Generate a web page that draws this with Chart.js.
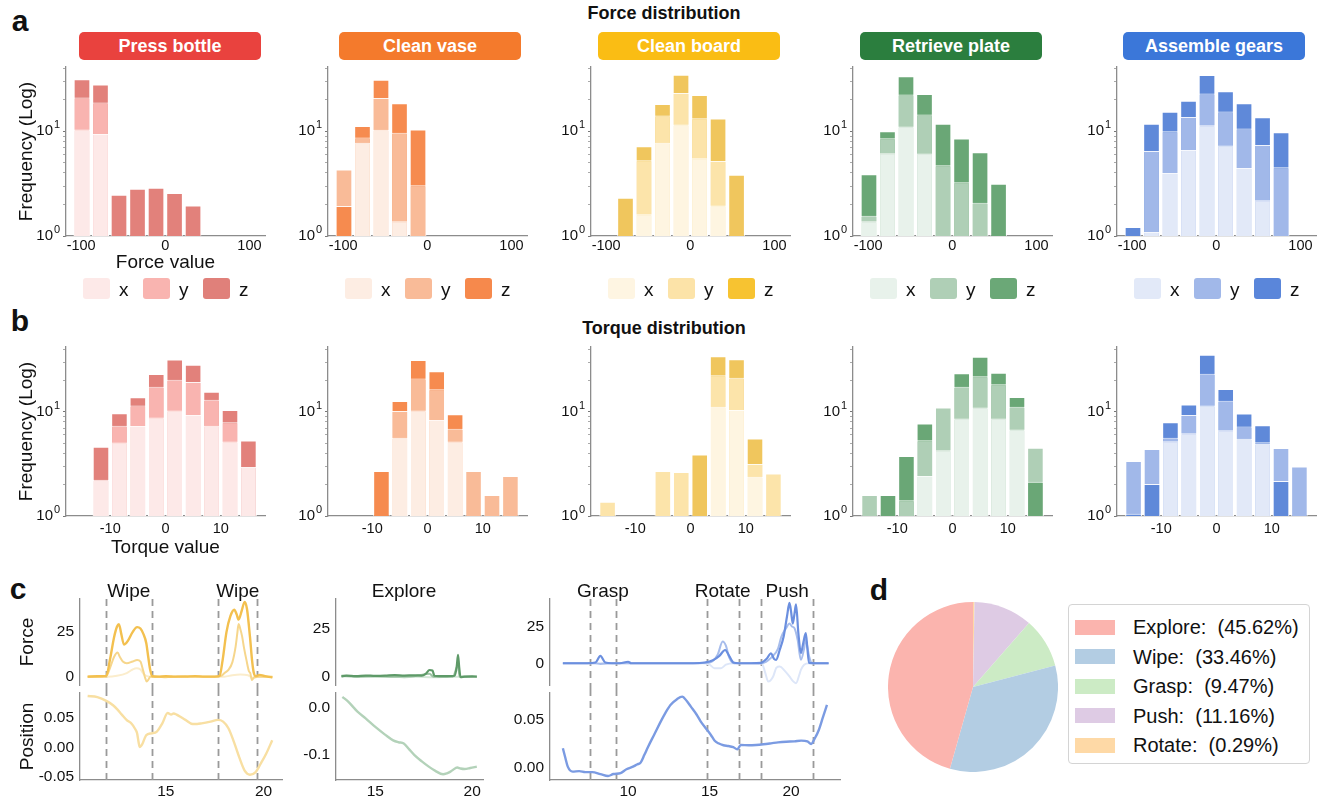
<!DOCTYPE html>
<html>
<head>
<meta charset="utf-8">
<title>Force and torque distribution</title>
<script src="https://cdn.jsdelivr.net/npm/chart.js@4.4.1/dist/chart.umd.min.js"></script>
<style>
  html, body { margin: 0; padding: 0; background: #fff; }
  body { position: relative; width: 1328px; height: 801px; overflow: hidden;
         font-family: 'Liberation Sans', Arial, Helvetica, sans-serif; color: #111; }
  canvas { position: absolute; }
  .t { position: absolute; white-space: pre; line-height: 1; }
  .badge { position: absolute; color: #fff; font-weight: bold; border-radius: 5px;
           display: flex; align-items: center; justify-content: center; }
  .key { position: absolute; border-radius: 3px; }
  .legbox { position: absolute; border: 1px solid #d4d4d4; border-radius: 4px; background: #fff; }
</style>
</head>
<body>
<script>
const FONT = "'Liberation Sans', Arial, Helvetica, sans-serif";
const AXIS = '#8c8c8c';
Chart.defaults.font.family = FONT;
Chart.defaults.color = '#111';

// ---------- a / b : histogram data ----------
const forceBins = [-99, -77, -55, -33, -11, 11, 33, 55, 77, 99];
const torqueBins = [-15, -11.67, -8.33, -5, -1.67, 1.67, 5, 8.33, 11.67, 15];
const forceTicks = [-100, 0, 100];
const forceTickLabels = ['-100', '0', '100'];
const torqueTicks = [-10, 0, 10];
const torqueTickLabels = ['-10', '0', '10'];
const logTicks = [1, 2, 3, 4, 5, 6, 7, 8, 9, 10, 20, 30, 40];
const logLabelled = [1, 10];

const taskNames = ['Press bottle', 'Clean vase', 'Clean board', 'Retrieve plate', 'Assemble gears'];
const badgeColors = ['#E9423E', '#F47A2C', '#FABD14', '#2B7E3E', '#3B77D9'];
const axisNames = ['x', 'y', 'z'];

// bar colours per task: x, y, z
const barColors = [
  ['#FDE9E8', '#F9B4B0', '#E2817B'],
  ['#FDEDE3', '#F9BB98', '#F68B4F'],
  ['#FEF5E1', '#FCE4AA', '#F0C65D'],
  ['#E8F2EB', '#AFCFB6', '#6AA776'],
  ['#E2E9F8', '#A1B8E9', '#5F89D9']
];
const keyColors = [
  ['#FDE9E8', '#F9B4B0', '#E0807A'],
  ['#FDEDE3', '#F9BB98', '#F6894C'],
  ['#FEF5E2', '#FCE3A8', '#F7C331'],
  ['#E8F2EB', '#AFCFB6', '#6BA877'],
  ['#E2E9F8', '#A1B8E9', '#5A86DA']
];

// height reached by each axis in every bin (bars are drawn from the baseline)
const pressForceX = [10.4, 9.4, 0, 0, 0, 0, 0, 0, 0, 0];
const pressForceY = [21.0, 18.8, 0, 0, 0, 0, 0, 0, 0, 0];
const pressForceZ = [31.4, 27.9, 2.48, 2.83, 2.89, 2.57, 1.95, 0, 0, 0];
const vaseForceX = [0, 7.74, 10.3, 1.38, 0, 0, 0, 0, 0, 0];
const vaseForceY = [4.30, 8.70, 20.7, 9.69, 3.05, 0, 0, 0, 0, 0];
const vaseForceZ = [1.93, 11.2, 30.9, 18.5, 10.4, 0, 0, 0, 0, 0];
const boardForceX = [0, 0, 1.61, 7.74, 11.6, 5.52, 1.95, 0, 0, 0];
const boardForceY = [0, 0, 5.28, 14.1, 23.1, 13.3, 5.21, 0, 0, 0];
const boardForceZ = [0, 2.32, 7.19, 18.2, 34.5, 22.1, 13.2, 3.85, 0, 0];
const plateForceX = [1.38, 6.16, 11.1, 6.12, 0, 0, 0, 0, 0, 0];
const plateForceY = [1.56, 8.57, 22.4, 14.4, 4.73, 3.26, 2.08, 0, 0, 0];
const plateForceZ = [3.88, 10.0, 33.5, 22.7, 11.8, 8.51, 6.30, 3.16, 0, 0];
const gearsForceX = [0, 1.09, 4.0, 6.63, 11.4, 7.30, 4.46, 2.19, 0, 0];
const gearsForceY = [0, 6.49, 10.0, 13.7, 22.9, 15.4, 10.6, 7.40, 4.53, 0];
const gearsForceZ = [1.22, 11.8, 15.3, 19.5, 34.3, 24.1, 18.5, 13.6, 9.78, 0];

const pressTorqueX = [0, 2.23, 5.08, 7.3, 8.82, 10.3, 9.35, 7.34, 5.19, 2.95];
const pressTorqueY = [0, 0, 7.34, 11.5, 17.4, 20.4, 19.4, 13.1, 7.96, 0];
const pressTorqueZ = [0, 4.62, 9.7, 13.8, 23.1, 31.8, 28.4, 15.6, 10.4, 5.31];
const vaseTorqueX = [0, 0, 0, 5.63, 10.3, 8.38, 5.19, 0, 0, 0];
const vaseTorqueY = [0, 0, 0, 10.2, 20.9, 16.5, 6.87, 2.70, 1.59, 2.42];
const vaseTorqueZ = [0, 0, 2.70, 12.7, 31.5, 24.5, 9.5, 0, 0, 0];
const boardTorqueX = [0, 0, 0, 0, 0, 0, 11.2, 10.4, 2.38, 0];
const boardTorqueY = [1.37, 0, 0, 2.70, 2.64, 0, 22.5, 21.3, 3.15, 2.56];
const boardTorqueZ = [0, 0, 0, 0, 0, 3.90, 34.2, 32.0, 5.55, 0];
const plateTorqueX = [0, 0, 0, 2.42, 4.29, 8.63, 11.0, 8.63, 6.77, 0];
const plateTorqueY = [1.59, 0, 1.42, 5.35, 11.0, 17.4, 22.0, 18.4, 11.2, 4.52];
const plateTorqueZ = [0, 1.59, 3.76, 7.73, 0, 23.5, 33.9, 23.8, 13.9, 2.13];
const gearsTorqueX = [0, 0, 5.23, 6.25, 11.5, 6.67, 5.51, 4.94, 0, 0];
const gearsTorqueY = [3.37, 4.39, 5.63, 9.35, 23.2, 12.8, 7.23, 5.1, 4.49, 2.99];
const gearsTorqueZ = [1.05, 2.03, 7.96, 11.8, 35.4, 16.6, 9.64, 7.45, 2.17, 0];

// ---------- c : time series ([time s, value]) ----------
const wipeForceStrong = [[11.0,0],[11.5,0.2],[11.95,0.3],[12.15,10],[12.35,22],[12.5,28],[12.6,29.5],[12.72,24],[12.86,18],[13.05,20],[13.3,25],[13.53,27.8],[13.7,27],[13.85,24],[14.0,18.8],[14.1,11],[14.2,3.8],[14.3,0.3],[14.6,0],[15.0,0.2],[15.5,0],[16.0,0],[16.5,0.3],[17.0,0],[17.5,0],[17.75,0.5],[17.9,9],[18.1,25],[18.3,34],[18.5,37.6],[18.62,35],[18.72,32],[18.88,37],[19.03,42],[19.15,38],[19.3,22.6],[19.42,8],[19.5,2],[19.6,0.2],[19.8,1],[20.0,0.5],[20.2,0],[20.45,-0.4]];
const wipeForceMid = [[11.0,0],[11.5,0],[11.95,0.2],[12.15,5],[12.35,11],[12.53,13.5],[12.65,11],[12.8,8.5],[13.0,7.5],[13.3,8.5],[13.53,9.4],[13.7,8.5],[13.85,3],[13.95,-1],[14.02,-2.8],[14.12,-1.5],[14.2,0],[14.6,0],[15.0,-0.3],[15.5,0],[16.0,0.2],[16.5,0],[17.0,0],[17.5,0],[17.8,0.3],[18.0,2],[18.2,3.8],[18.4,8],[18.57,17],[18.65,24],[18.72,29.5],[18.8,27],[18.9,22.6],[19.0,16],[19.12,9.4],[19.25,3],[19.32,1.9],[19.4,-1.9],[19.5,-0.5],[19.6,0],[20.0,0],[20.45,0]];
const wipeForceWeak = [[11.0,0],[12.0,0],[12.5,0.5],[13.0,2],[13.3,4],[13.5,4.7],[13.7,4],[13.9,1],[14.2,0],[15.0,0],[16.0,0],[17.0,0],[18.0,0],[18.4,0.8],[18.8,1.2],[19.2,0.8],[19.5,-0.8],[19.7,0],[20.45,0]];
const wipePosition = [[11.0,0.0878],[11.5,0.086],[11.98,0.079],[12.3,0.072],[12.53,0.0645],[12.75,0.056],[12.99,0.047],[13.26,0.040],[13.4,0.033],[13.53,0.024],[13.6,0.010],[13.66,0.0006],[13.75,0.003],[13.81,0.0064],[13.9,0.014],[14.0,0.021],[14.27,0.024],[14.54,0.027],[14.82,0.041],[15.09,0.0587],[15.27,0.056],[15.4,0.058],[15.55,0.056],[15.8,0.051],[16.0,0.047],[16.37,0.040],[16.6,0.040],[16.83,0.041],[17.29,0.044],[17.66,0.047],[17.93,0.044],[18.2,0.0326],[18.48,0.0093],[18.75,-0.0169],[19.03,-0.040],[19.3,-0.047],[19.58,-0.043],[19.85,-0.028],[20.13,-0.011],[20.44,0.012]];
const wipeMarks = [11.94, 14.27, 17.69, 19.67];
const wipePhases = ['Wipe', 'Wipe'];

const exploreForceStrong = [[13.25,0.2],[13.5,0.5],[14.0,0.3],[14.5,0.6],[15.0,0.4],[15.5,0.5],[16.0,0.8],[16.5,0.6],[17.0,0.7],[17.4,0.6],[17.6,1.5],[17.8,3.5],[17.95,3.2],[18.05,0.5],[18.3,0.3],[18.7,0.3],[19.1,0.5],[19.2,5],[19.27,11.4],[19.33,5],[19.4,-0.3],[19.6,0],[20.0,0.2],[20.24,0]];
const exploreForceMid = [[13.25,0.3],[14.0,0],[15.0,0.2],[16.0,0],[17.0,0.2],[17.8,1.5],[18.0,0],[19.0,0],[19.27,6],[19.35,0],[20.24,0]];
const exploreForceWeak = [[13.25,0.8],[13.5,0.5],[14.0,0.2],[15.0,0],[16.0,0],[16.5,-0.4],[17.0,0],[18.0,-0.3],[19.0,0],[20.24,0]];
const explorePosition = [[13.3,0.022],[13.6,0.012],[14.08,-0.009],[14.5,-0.023],[15.0,-0.041],[15.5,-0.057],[15.92,-0.069],[16.2,-0.073],[16.47,-0.0755],[16.75,-0.088],[17.02,-0.100],[17.4,-0.113],[17.76,-0.124],[18.1,-0.133],[18.5,-0.140],[18.7,-0.138],[18.86,-0.135],[19.0,-0.131],[19.23,-0.126],[19.4,-0.128],[19.6,-0.129],[19.9,-0.127],[20.24,-0.124]];

const gearForceStrong = [[6.0,0],[7.5,0],[8.0,0.5],[8.3,5],[8.6,0.5],[9.0,0],[9.5,0],[10.0,1],[10.2,0],[11.0,0],[12.0,0],[13.0,0],[14.0,0],[14.7,0.5],[15.2,2],[15.6,5],[15.95,9],[16.2,5],[16.46,0.5],[16.8,0],[17.5,0],[18.15,0.3],[18.5,3],[18.77,6.8],[18.95,3],[19.08,2.3],[19.3,9],[19.54,18],[19.75,32],[19.9,41],[20.0,35],[20.1,27],[20.2,33],[20.3,40],[20.45,20],[20.6,6.8],[20.75,14],[20.9,20.5],[21.0,10],[21.1,0.3],[21.5,0],[22.0,0],[22.3,0]];
const gearForceMid = [[6.0,0],[8.0,0],[8.3,-0.5],[9.0,0],[10.0,0],[12.0,0],[14.0,0],[15.0,0.5],[15.5,6],[15.8,14.8],[16.0,12],[16.2,4],[16.5,0],[17.0,0],[18.2,0],[18.8,4],[19.2,10],[19.4,18],[19.7,24],[19.9,27],[20.05,25],[20.2,24],[20.4,16],[20.6,2.3],[20.8,10],[20.9,16],[21.1,5],[21.3,0],[22.3,0]];
const gearForceWeak = [[6.0,0],[10.0,0],[14.5,0],[15.0,-1],[15.3,-3.4],[15.7,-3.4],[16.0,-1],[16.5,0],[18.2,0],[18.4,-6],[18.6,-12.5],[18.9,-9],[19.1,-3],[19.3,-2.3],[19.6,-5],[19.9,-9],[20.1,-12],[20.3,-13.6],[20.5,-8],[20.6,-4.5],[20.8,-1],[21.1,0],[22.3,0]];
const gearPosition = [[6.0,0.0198],[6.15,0.010],[6.3,0.0007],[6.6,-0.0045],[7.0,-0.004],[7.38,-0.005],[7.8,-0.005],[8.3,-0.007],[8.77,-0.009],[9.1,-0.007],[9.54,-0.006],[9.9,-0.002],[10.3,0.0007],[10.55,0.003],[10.77,0.0049],[11.0,0.013],[11.23,0.0215],[11.6,0.034],[12.0,0.0476],[12.3,0.057],[12.6,0.065],[13.0,0.071],[13.32,0.0736],[13.6,0.069],[13.85,0.0632],[14.2,0.055],[14.46,0.0476],[14.8,0.040],[15.08,0.0337],[15.3,0.028],[15.54,0.025],[15.85,0.023],[16.15,0.0222],[16.45,0.021],[16.7,0.0188],[16.92,0.0233],[17.4,0.023],[17.85,0.0233],[18.3,0.024],[18.77,0.025],[19.2,0.026],[19.7,0.0267],[20.2,0.027],[20.62,0.0278],[21.0,0.027],[21.23,0.0243],[21.45,0.03],[21.7,0.0389],[21.95,0.052],[22.2,0.065]];
const gearMarks = [7.69, 9.23, 14.83, 16.78, 18.17, 21.35];
const gearPhases = ['Grasp', 'Rotate', 'Push'];

// ---------- d : phase shares ----------
const phaseNames = ['Explore', 'Wipe', 'Grasp', 'Push', 'Rotate'];
const phaseShares = [45.62, 33.46, 9.47, 11.16, 0.29];
const phaseColors = ['#FBB4AE', '#B3CDE3', '#CCEBC5', '#DECBE4', '#FED9A6'];

// ---------- helpers ----------
function text(str, x, y, size, opt = {}) {
  const d = document.createElement('div');
  d.className = 't';
  d.textContent = str;
  const ax = opt.align === 'left' ? '0' : '-50%';
  d.style.left = x + 'px';
  d.style.top = y + 'px';
  d.style.fontSize = size + 'px';
  d.style.fontWeight = opt.bold ? 'bold' : 'normal';
  d.style.transform = `translate(${ax},-50%)`;
  document.body.appendChild(d);
  return d;
}

function box(cls, l, t, w, h, color) {
  const d = document.createElement('div');
  d.className = cls;
  d.style.cssText = `left:${l}px;top:${t}px;width:${w}px;height:${h}px;background:${color};`;
  document.body.appendChild(d);
  return d;
}

// canvas placed so that the plot area lands on (pl, pt, pw, ph)
function frame(pl, pt, pw, ph, yW, xH, pad) {
  const p = Object.assign({ top: 14, right: 14, bottom: 14, left: 0 }, pad || {});
  const w = p.left + yW + pw + p.right;
  const h = p.top + ph + xH + p.bottom;
  const c = document.createElement('canvas');
  c.width = w; c.height = h;
  c.style.cssText = `left:${pl - yW - p.left}px;top:${pt - p.top}px;width:${w}px;height:${h}px;`;
  document.body.appendChild(c);
  return { canvas: c, padding: p, left: pl - yW - p.left, top: pt - p.top };
}

function fixedTicks(vals) {
  return s => { s.ticks = vals.map(v => ({ value: v })); };
}

// exponent of the "10^n" log tick labels, written small and raised
const exponentPlugin = {
  id: 'exponent',
  afterDraw(chart) {
    const y = chart.scales.y;
    const { ctx } = chart;
    ctx.save();
    ctx.font = `11px ${FONT}`;
    ctx.fillStyle = '#111';
    ctx.textAlign = 'left';
    ctx.textBaseline = 'middle';
    logLabelled.forEach(v => {
      ctx.fillText(String(Math.round(Math.log10(v))), y.right - 12, y.getPixelForValue(v) - 6);
    });
    ctx.restore();
  }
};

const PW = 199, PH = 169;
const panelLeft = [66, 328, 591, 853, 1117];

function histChart(pl, pt, bins, series, cols, xr, yMax, tickVals, tickLabels, tickPad, xTitle, xH, yTitle) {
  const yW = yTitle ? 51 : 44;
  const f = frame(pl, pt, PW, PH, yW, xH, { top: 24, bottom: 16 });
  // overlapping bars: per bin, the tallest axis is drawn first, the shortest on top
  const layers = [[], [], []];
  bins.forEach((b, i) => {
    series.map((s, k) => ({ v: s[i], c: cols[k] }))
      .sort((a, b2) => b2.v - a.v)
      .forEach((it, r) => layers[r].push(it));
  });
  const datasets = layers.map((L, r) => ({
    data: bins.map((b, i) => ({ x: b, y: L[i].v > 0 ? L[i].v : null })),
    backgroundColor: L.map(it => it.c),
    borderColor: 'rgba(255,255,255,0.9)',
    borderWidth: 1,
    grouped: false,
    order: 3 - r,
    barPercentage: 0.9,
    categoryPercentage: 1
  }));
  return new Chart(f.canvas, {
    type: 'bar',
    data: { datasets },
    plugins: [exponentPlugin],
    options: {
      responsive: false,
      animation: false,
      layout: { padding: f.padding },
      plugins: { legend: { display: false }, tooltip: { enabled: false } },
      scales: {
        x: {
          type: 'linear', min: xr[0], max: xr[1], offset: false,
          grid: { display: false, drawTicks: false },
          border: { display: true, color: AXIS, width: 1.3 },
          afterBuildTicks: fixedTicks(tickVals),
          ticks: {
            autoSkip: false, maxRotation: 0, padding: tickPad,
            font: { size: 14.5 }, color: '#111',
            callback: v => tickLabels[tickVals.indexOf(v)]
          },
          title: { display: !!xTitle, text: xTitle || '', font: { size: 19 }, color: '#111', padding: 0 },
          afterFit: s => { s.height = xH; }
        },
        y: {
          type: 'logarithmic', min: 1, max: yMax,
          grid: { display: true, drawOnChartArea: false, drawTicks: true, tickLength: 3,
                  tickColor: c => (c.tick && logLabelled.includes(c.tick.value)) ? '#777' : '#aaa',
                  lineWidth: 1 },
          border: { display: true, color: AXIS, width: 1.3 },
          afterBuildTicks: fixedTicks(logTicks.filter(v => v <= yMax)),
          ticks: {
            autoSkip: false, padding: 10, font: { size: 15 }, color: '#111',
            callback: v => logLabelled.includes(v) ? '10' : ''
          },
          title: { display: !!yTitle, text: yTitle || '', font: { size: 19 }, color: '#111', padding: 0 },
          afterFit: s => { s.width = yW; }
        }
      }
    }
  });
}

// vertical dashed phase marks
const markPlugin = {
  id: 'marks',
  beforeDatasetsDraw(chart, args, o) {
    if (!o.at || !o.at.length) return;
    const { ctx, chartArea: a, scales: { x } } = chart;
    ctx.save();
    ctx.strokeStyle = '#9a9a9a';
    ctx.lineWidth = 1.8;
    ctx.setLineDash([7, 5]);
    o.at.forEach(t => {
      const px = Math.round(x.getPixelForValue(t)) + 0.5;
      ctx.beginPath();
      ctx.moveTo(px, a.top - (o.up || 0));
      ctx.lineTo(px, a.bottom + (o.down || 0));
      ctx.stroke();
    });
    ctx.restore();
  }
};

function seriesChart(o) {
  const xH = o.showX ? 24 : 0;
  const f = frame(o.l, o.t, o.w, o.h, o.yW, xH, { top: 16, bottom: 16, right: 12 });
  const datasets = o.lines.map(ln => ({
    data: ln.pts.map(p => ({ x: p[0], y: p[1] })),
    borderColor: ln.color,
    borderWidth: ln.width,
    pointRadius: 0,
    cubicInterpolationMode: 'monotone',
    fill: false
  }));
  const chart = new Chart(f.canvas, {
    type: 'line',
    data: { datasets },
    plugins: [markPlugin],
    options: {
      responsive: false,
      animation: false,
      layout: { padding: f.padding },
      plugins: {
        legend: { display: false }, tooltip: { enabled: false },
        marks: { at: o.marks || [], up: o.up || 0, down: o.down || 0 }
      },
      scales: {
        x: {
          type: 'linear', min: o.xr[0], max: o.xr[1], display: !!o.showX,
          grid: { display: false, drawTicks: false },
          border: { display: true, color: AXIS, width: 1.3 },
          afterBuildTicks: fixedTicks(o.xTicks || []),
          ticks: { autoSkip: false, maxRotation: 0, padding: 2, font: { size: 15.5 }, color: '#111',
                   callback: v => String(v) },
          afterFit: s => { s.height = xH; }
        },
        y: {
          type: 'linear', min: o.yr[0], max: o.yr[1],
          grid: { display: false, drawTicks: false },
          border: { display: true, color: AXIS, width: 1.3 },
          afterBuildTicks: fixedTicks(o.yTicks),
          ticks: { autoSkip: false, padding: 6, font: { size: 15.5 }, color: '#111',
                   callback: v => o.yLabels[o.yTicks.indexOf(v)] },
          title: { display: !!o.yTitle, text: o.yTitle || '', font: { size: 19 }, color: '#111', padding: 0 },
          afterFit: s => { s.width = o.yW; }
        }
      }
    }
  });
  return { chart, frame: f };
}

// ---------- panel letters & titles ----------
text('a', 20, 21, 30, { bold: true });
text('b', 20, 321, 30, { bold: true });
text('c', 18, 589, 30, { bold: true });
text('d', 879, 590, 30, { bold: true });
text('Force distribution', 664, 13, 18, { bold: true });
text('Torque distribution', 664, 328, 18, { bold: true });

// ---------- a / b : histograms ----------
const forceSeries = [
  [pressForceX, pressForceY, pressForceZ],
  [vaseForceX, vaseForceY, vaseForceZ],
  [boardForceX, boardForceY, boardForceZ],
  [plateForceX, plateForceY, plateForceZ],
  [gearsForceX, gearsForceY, gearsForceZ]
];
const torqueSeries = [
  [pressTorqueX, pressTorqueY, pressTorqueZ],
  [vaseTorqueX, vaseTorqueY, vaseTorqueZ],
  [boardTorqueX, boardTorqueY, boardTorqueZ],
  [plateTorqueX, plateTorqueY, plateTorqueZ],
  [gearsTorqueX, gearsTorqueY, gearsTorqueZ]
];
const badgeCenters = [170, 430, 689, 951, 1214];

taskNames.forEach((name, i) => {
  const pl = panelLeft[i];
  const b = box('badge', badgeCenters[i] - 91, 32, 182, 28, badgeColors[i]);
  b.textContent = name;
  b.style.fontSize = '18px';

  histChart(pl, 67, forceBins, forceSeries[i], barColors[i], [-118, 118.5], 41,
    forceTicks, forceTickLabels, 1, i === 0 ? 'Force value' : null, i === 0 ? 38 : 24,
    i === 0 ? 'Frequency (Log)' : null);
  histChart(pl, 347, torqueBins, torqueSeries[i], barColors[i], [-18, 18], 42,
    torqueTicks, torqueTickLabels, 4, i === 0 ? 'Torque value' : null, i === 0 ? 43 : 24,
    i === 0 ? 'Frequency (Log)' : null);

  axisNames.forEach((ax, k) => {
    const kl = pl + 17 + k * 60;
    box('key', kl, 278, 27, 21, keyColors[i][k]);
    text(ax, kl + 36, 289, 19, { align: 'left' });
  });
});

// ---------- c : force / position traces ----------
const FT = 599, FH = 86, PT = 693, PHc = 87;

function phaseLabels(chart, f, marks, names) {
  names.forEach((n, k) => {
    const mid = (marks[2 * k] + marks[2 * k + 1]) / 2;
    text(n, f.left + chart.scales.x.getPixelForValue(mid), 590, 19);
  });
}

const wipeF = seriesChart({
  l: 80, t: FT, w: 202, h: FH, yW: 64, xr: [10.61, 20.94], yr: [-4.7, 43.6],
  yTicks: [0, 25], yLabels: ['0', '25'], yTitle: 'Force', marks: wipeMarks, down: 4,
  lines: [
    { pts: wipeForceStrong, color: '#F3C04F', width: 2.4 },
    { pts: wipeForceMid, color: '#F6D68C', width: 2 },
    { pts: wipeForceWeak, color: '#FBEDCC', width: 2 }
  ]
});
seriesChart({
  l: 80, t: PT, w: 202, h: PHc, yW: 64, xr: [10.61, 20.94], yr: [-0.056, 0.093], showX: true,
  xTicks: [15, 20], yTicks: [-0.05, 0, 0.05], yLabels: ['-0.05', '0.00', '0.05'], yTitle: 'Position',
  marks: wipeMarks, up: 4,
  lines: [{ pts: wipePosition, color: '#F8DFA2', width: 2.4 }]
});
phaseLabels(wipeF.chart, wipeF.frame, wipeMarks, wipePhases);

seriesChart({
  l: 336, t: FT, w: 147, h: FH, yW: 40, xr: [12.97, 20.56], yr: [-4.35, 40.6],
  yTicks: [0, 25], yLabels: ['0', '25'],
  lines: [
    { pts: exploreForceStrong, color: '#5E9A68', width: 2.2 },
    { pts: exploreForceMid, color: '#9DC4A4', width: 2 },
    { pts: exploreForceWeak, color: '#D5E7D8', width: 2 }
  ]
});
seriesChart({
  l: 336, t: PT, w: 147, h: PHc, yW: 40, xr: [12.97, 20.56], yr: [-0.152, 0.030], showX: true,
  xTicks: [15, 20], yTicks: [-0.1, 0], yLabels: ['-0.1', '0.0'],
  lines: [{ pts: explorePosition, color: '#B3D2B9', width: 2.4 }]
});
text('Explore', 404, 590, 19);

const gearF = seriesChart({
  l: 550, t: FT, w: 290, h: FH, yW: 44, xr: [5.21, 23.0], yr: [-14.8, 43.7],
  yTicks: [0, 25], yLabels: ['0', '25'], marks: gearMarks, down: 4,
  lines: [
    { pts: gearForceStrong, color: '#6B8FDF', width: 2.2 },
    { pts: gearForceMid, color: '#A7BDEC', width: 2 },
    { pts: gearForceWeak, color: '#DDE6F8', width: 2 }
  ]
});
seriesChart({
  l: 550, t: PT, w: 290, h: PHc, yW: 44, xr: [5.21, 23.0], yr: [-0.0132, 0.0774], showX: true,
  xTicks: [10, 15, 20], yTicks: [0, 0.05], yLabels: ['0.00', '0.05'], marks: gearMarks, up: 4,
  lines: [{ pts: gearPosition, color: '#7B9BE2', width: 2.4 }]
});
phaseLabels(gearF.chart, gearF.frame, gearMarks, gearPhases);

// ---------- d : phase share pie ----------
const pieCanvas = document.createElement('canvas');
pieCanvas.width = 170; pieCanvas.height = 170;
pieCanvas.style.cssText = 'left:888px;top:602px;width:170px;height:170px;';
document.body.appendChild(pieCanvas);
// clockwise from 12 o'clock = reverse of the counter-clockwise phase order
new Chart(pieCanvas, {
  type: 'pie',
  data: {
    labels: phaseNames.slice().reverse(),
    datasets: [{
      data: phaseShares.slice().reverse(),
      backgroundColor: phaseColors.slice().reverse(),
      borderWidth: 0
    }]
  },
  options: {
    responsive: false,
    animation: false,
    layout: { padding: 0 },
    plugins: { legend: { display: false }, tooltip: { enabled: false } }
  }
});

box('legbox', 1068, 604, 240, 158, '#fff');
phaseNames.forEach((n, k) => {
  const cy = 627 + k * 29.5;
  box('key', 1075, cy - 7.5, 40, 15, phaseColors[k]).style.borderRadius = '0';
  text(`${n}:  (${phaseShares[k].toFixed(2)}%)`, 1133, cy, 20, { align: 'left' });
});
</script>
</body>
</html>
